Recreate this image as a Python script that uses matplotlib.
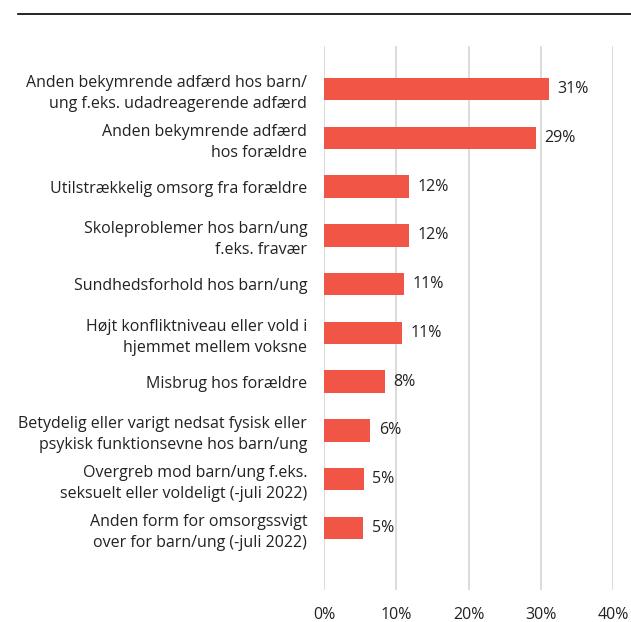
import matplotlib.pyplot as plt
import numpy as np

# Data
labels = [
    "Anden bekymrende adfærd hos barn/\nung f.eks. udadreagerende adfærd",
    "Anden bekymrende adfærd\nhos forældre",
    "Utilstrækkelig omsorg fra forældre",
    "Skoleproblemer hos barn/ung\nf.eks. fravær",
    "Sundhedsforhold hos barn/ung",
    "Højt konfliktniveau eller vold i\nhjemmet mellem voksne",
    "Misbrug hos forældre",
    "Betydelig eller varigt nedsat fysisk eller\npsykisk funktionsevne hos barn/ung",
    "Overgreb mod barn/ung f.eks.\nseksuelt eller voldeligt (-juli 2022)",
    "Anden form for omsorgssvigt\nover for barn/ung (-juli 2022)",
]
values = [31.1, 29.3, 11.8, 11.8, 11.1, 10.8, 8.4, 6.4, 5.5, 5.4]
value_labels = ["31%", "29%", "12%", "12%", "11%", "11%", "8%", "6%", "5%", "5%"]
xticks = [0, 10, 20, 30, 40]

plt.rcParams['font.family'] = ['Open Sans', 'DejaVu Sans']
fs = 11.5
txt_color = '#222222'

W, H = 631, 622
fig = plt.figure(figsize=(W / 100, H / 100), dpi=100)
ax = fig.add_axes([324 / W, 1 - 590 / H, (613 - 324) / W, (590 - 46) / H])

y = np.arange(len(labels))
ax.barh(y, values, height=0.46, color='#F05545', zorder=3)

for yi, v, t in zip(y, values, value_labels):
    ax.text(v + 1.2, yi, t, va='center', ha='left', fontsize=fs, color=txt_color)

ax.set_xlim(0, 40)
ax.set_ylim(len(labels) - 1 + 1.27, -0.88)
ax.set_yticks(y)
ax.set_yticklabels(labels, fontsize=fs, color=txt_color, linespacing=1.4)
ax.set_xticks(xticks)
ax.set_xticklabels([f"{t}%" for t in xticks], fontsize=fs, color=txt_color)
ax.tick_params(axis='y', length=0, pad=12)
ax.tick_params(axis='x', length=0, pad=12)

ax.grid(axis='x', color='#d9d9d9', linewidth=1.3, zorder=0)
for s in ax.spines.values():
    s.set_visible(False)

# Top rule
fig.add_artist(plt.Line2D([18 / W, 1], [1 - 14 / H, 1 - 14 / H], color='black', linewidth=1.2))

fig.savefig("out.png", dpi=100)
